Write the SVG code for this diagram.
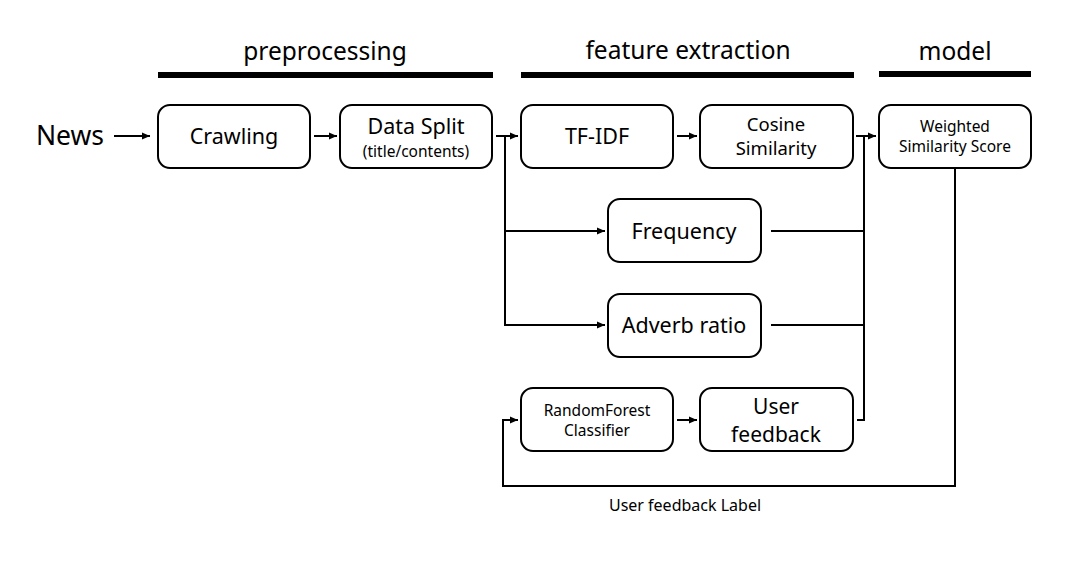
<svg xmlns="http://www.w3.org/2000/svg" width="1083" height="561" viewBox="0 0 1083 561">
<style>
text{font-family:"Noto Sans","Noto Sans CJK KR",sans-serif;fill:#000;text-anchor:middle}
.box{fill:#fff;stroke:#000;stroke-width:2}
.ln{fill:none;stroke:#000;stroke-width:2}
.h{font-size:24.5px}
.m{font-size:21.5px}
.u{font-size:21px}
.c{font-size:18.5px}
.s{font-size:16px}
.ss{font-size:15.5px}
</style>
<defs>
<marker id="ah" markerWidth="8" markerHeight="8" refX="8" refY="4" orient="auto" markerUnits="userSpaceOnUse">
<path d="M0,0.5 L8,4 L0,7.5 Z" fill="#000"/>
</marker>
</defs>
<rect width="1083" height="561" fill="#fff"/>
<g id="headers">
<text class="h" x="325" y="60">preprocessing</text>
<rect x="158" y="72" width="335" height="6" fill="#000"/>
<text class="h" x="688" y="59">feature extraction</text>
<rect x="521" y="72" width="333" height="6" fill="#000"/>
<text class="h" x="955" y="60">model</text>
<rect x="879" y="71" width="152" height="6" fill="#000"/>
</g>
<g id="news"><text x="70" y="145" style="font-size:26.5px">News</text></g>
<g id="connectors">
<line class="ln" x1="114" y1="136" x2="150" y2="136" marker-end="url(#ah)"/>
<line class="ln" x1="314" y1="136" x2="337" y2="136" marker-end="url(#ah)"/>
<path class="ln" d="M496,136 H518" marker-end="url(#ah)"/>
<path class="ln" d="M505,136 V325 H605" marker-end="url(#ah)"/>
<path class="ln" d="M505,231 H605" marker-end="url(#ah)"/>
<line class="ln" x1="677" y1="136" x2="697" y2="136" marker-end="url(#ah)"/>
<path class="ln" d="M856,136 H876" marker-end="url(#ah)"/>
<path class="ln" d="M864,136 V420 H857"/>
<path class="ln" d="M771,231 H864"/>
<path class="ln" d="M771,325 H864"/>
<line class="ln" x1="677" y1="420" x2="697" y2="420" marker-end="url(#ah)"/>
<path class="ln" d="M955,168 V486 H503 V420 H518" marker-end="url(#ah)"/>
<text class="s" x="685" y="511">User feedback Label</text>
</g>
<g id="crawling"><rect class="box" x="158" y="105" width="152" height="63" rx="12"/><text class="m" x="234" y="144">Crawling</text></g>
<g id="datasplit"><rect class="box" x="340" y="105" width="152" height="63" rx="12"/><text class="m" x="416" y="134">Data Split</text><text class="ss" x="416" y="157">(title/contents)</text></g>
<g id="tfidf"><rect class="box" x="521" y="105" width="152" height="63" rx="12"/><text class="m" x="597" y="144">TF-IDF</text></g>
<g id="cosine"><rect class="box" x="700" y="105" width="153" height="63" rx="12"/><text class="c" x="776" y="131">Cosine</text><text class="c" x="776" y="155">Similarity</text></g>
<g id="weighted"><rect class="box" x="879" y="105" width="152" height="63" rx="12"/><text class="ss" x="955" y="132">Weighted</text><text class="ss" x="955" y="152">Similarity Score</text></g>
<g id="frequency"><rect class="box" x="608" y="199" width="153" height="63" rx="12"/><text class="m" x="684" y="239">Frequency</text></g>
<g id="adverb"><rect class="box" x="608" y="294" width="153" height="63" rx="12"/><text class="m" x="684" y="333">Adverb ratio</text></g>
<g id="randomforest"><rect class="box" x="521" y="388" width="152" height="63" rx="12"/><text class="ss" x="597" y="416">RandomForest</text><text class="ss" x="597" y="436">Classifier</text></g>
<g id="userfeedback"><rect class="box" x="700" y="388" width="153" height="63" rx="12"/><text class="u" x="776" y="414">User</text><text class="u" x="776" y="442">feedback</text></g>
</svg>
